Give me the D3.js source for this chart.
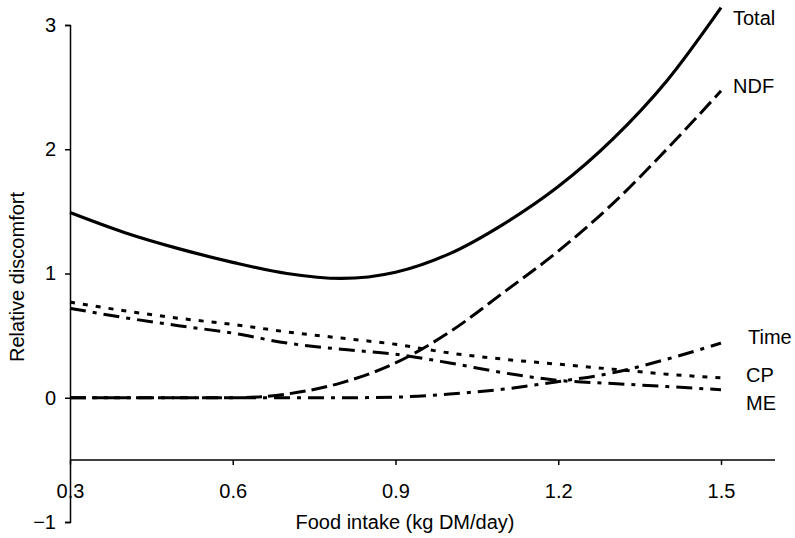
<!DOCTYPE html>
<html>
<head>
<meta charset="utf-8">
<script src="https://cdn.jsdelivr.net/npm/d3@7"></script>
<style>
  html, body { margin: 0; padding: 0; background: #fff; }
  svg { display: block; }
  text { font-family: "Liberation Sans", Arial, Helvetica, sans-serif; fill: #000; }
</style>
</head>
<body>
<svg id="chart" width="795" height="538"></svg>
<script>
// ---- data ----
const intake = [0.3, 0.4, 0.5, 0.6, 0.7, 0.8, 0.9, 1.0, 1.1, 1.2, 1.3, 1.4, 1.5];
const total  = [1.49, 1.33, 1.20, 1.09, 1.00, 0.96, 1.01, 1.16, 1.40, 1.70, 2.08, 2.55, 3.14];
const ndf    = [0, 0, 0, 0, 0.03, 0.12, 0.28, 0.53, 0.85, 1.18, 1.56, 2.00, 2.47];
const time   = [0, 0, 0, 0, 0, 0, 0.005, 0.03, 0.07, 0.13, 0.20, 0.31, 0.44];
const cp     = [0.77, 0.70, 0.64, 0.59, 0.53, 0.48, 0.43, 0.36, 0.31, 0.27, 0.23, 0.19, 0.16];
const me     = [0.72, 0.645, 0.58, 0.52, 0.44, 0.39, 0.35, 0.28, 0.20, 0.14, 0.115, 0.09, 0.065];
const seriesNames = ["Total", "NDF", "Time", "CP", "ME"];
const xTicks = [0.3, 0.6, 0.9, 1.2, 1.5];
const yTicks = [-1, 0, 1, 2, 3];
const xTitle = "Food intake (kg DM/day)";
const yTitle = "Relative discomfort";

// ---- styles ----
const styleOf = {
  Total: { dash: null, width: 3.2 },
  NDF:   { dash: "16,6", width: 3 },
  Time:  { dash: "16,7,4,7", width: 3 },
  CP:    { dash: "5,8", width: 3 },
  ME:    { dash: "16,7,4,7", width: 3 }
};
// label anchor: x pixel and level in data units
const labelPos = {
  Total: { x: 733, yv: 3.06 },
  NDF:   { x: 733, yv: 2.51 },
  Time:  { x: 748, yv: 0.49 },
  CP:    { x: 746, yv: 0.18 },
  ME:    { x: 746, yv: -0.045 }
};

const svg = d3.select("#chart");
const x = d3.scaleLinear().domain([0.3, 1.5]).range([70, 721]);
const y = d3.scaleLinear().domain([-1, 3]).range([522, 25]);

const seriesData = { Total: total, NDF: ndf, Time: time, CP: cp, ME: me };

// ---- axes ----
const yAxis = d3.axisLeft(y).tickValues(yTicks).tickSize(5).tickSizeOuter(5).tickPadding(9)
  .tickFormat(d3.format("d"));
const gy = svg.append("g").attr("transform", "translate(70,0)").call(yAxis);
gy.selectAll("path, line").attr("stroke", "#000").attr("stroke-width", 1.5);
gy.selectAll("text").style("font-size", "20px").attr("fill", "#000");

const xAxis = d3.axisBottom(x).tickValues(xTicks).tickSize(5).tickSizeOuter(0).tickPadding(19)
  .tickFormat(d3.format(".1f"));
const gx = svg.append("g").attr("transform", `translate(0,${y(-0.5)})`).call(xAxis);
gx.select(".domain").remove();
gx.append("line").attr("x1", 70).attr("x2", 775).attr("y1", 0).attr("y2", 0)
  .attr("stroke", "#000").attr("stroke-width", 1.5);
gx.selectAll(".tick line").attr("stroke", "#000").attr("stroke-width", 1.5);
gx.selectAll("text").style("font-size", "20px").attr("fill", "#000");

// titles
svg.append("text").attr("x", 405).attr("y", 529).attr("text-anchor", "middle")
  .style("font-size", "20px").text(xTitle);
svg.append("text").attr("transform", "translate(24,277) rotate(-90)").attr("text-anchor", "middle")
  .style("font-size", "20px").text(yTitle);

// ---- lines ----
const line = d3.line().x(d => x(d[0])).y(d => y(d[1])).curve(d3.curveMonotoneX);
seriesNames.slice().reverse().forEach(name => {
  const vals = seriesData[name];
  const pts = intake.map((v, i) => [v, vals[i]]);
  const st = styleOf[name];
  svg.append("path").datum(pts).attr("d", line)
    .attr("fill", "none").attr("stroke", "#000")
    .attr("stroke-width", st.width)
    .attr("stroke-dasharray", st.dash)
    .attr("stroke-linejoin", "round");
});

// ---- series labels ----
seriesNames.forEach(name => {
  const p = labelPos[name];
  svg.append("text").attr("x", p.x).attr("y", y(p.yv)).attr("dy", "0.35em")
    .style("font-size", "20px").text(name);
});
</script>
</body>
</html>
